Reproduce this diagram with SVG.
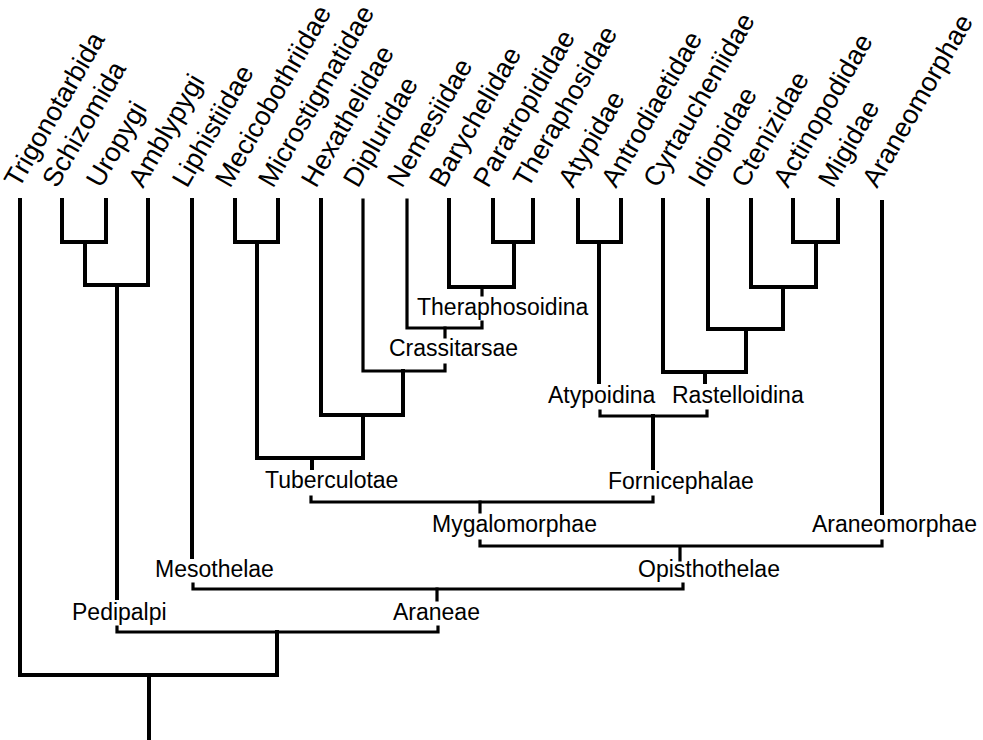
<svg xmlns="http://www.w3.org/2000/svg" width="983" height="740" viewBox="0 0 983 740">
<style>
.tree{fill:none;stroke:#000;stroke-width:4;stroke-linecap:square;stroke-linejoin:miter}
.br{fill:none;stroke:#000;stroke-width:3.2;stroke-linecap:square}
.lab{font-family:"Liberation Sans",Arial,sans-serif;font-size:23px;fill:#000}
.tip{font-family:"Liberation Sans",Arial,sans-serif;font-size:27px;fill:#000}
</style>
<rect width="983" height="740" fill="#fff"/>
<g id="connectors">
<path class="tree" d="M62 200V242H106V200M85 242V285H148V200M117 285V598"/>
<path class="tree" d="M20 200V675H277V632M149 675V740"/>
<path class="br" d="M117 627V632H438V627M437 589V600"/>
<path class="tree" d="M192 200V557"/>
<path class="br" d="M193 584V589H683V584M680 547V560"/>
<path class="tree" d="M882 202V513"/>
<path class="br" d="M480 541V546H882V541M480 502V512"/>
<path class="br" d="M311 497V502H653V497"/>
<path class="tree" d="M312 458V468M653 416V468"/>
<path class="br" d="M600 411V416H707V411"/>
<path class="tree" d="M578 200V242H621V200M599 242V382"/>
<path class="tree" d="M793 200V242H838V200M816 242V287H751V200M783 287V329H708V200M746 329V372H663V200M705 372V382"/>
<path class="tree" d="M235 200V242H278V200M257 242V458H363V415"/>
<path class="tree" d="M321 200V415H403V371"/>
<path class="br" d="M363 200V371H445V365M445 328V337"/>
<path class="br" d="M407 200V328H482V322M482 287V295"/>
<path class="tree" d="M449 200V287H514V242M493 200V242H533V200"/>
</g>
<g id="tips">
<text class="tip" transform="translate(19 189) rotate(-60)">Trigonotarbida</text>
<text class="tip" transform="translate(57 189) rotate(-60)">Schizomida</text>
<text class="tip" transform="translate(101 189) rotate(-60)">Uropygi</text>
<text class="tip" transform="translate(143 189) rotate(-60)">Amblypygi</text>
<text class="tip" transform="translate(187 189) rotate(-60)">Liphistiidae</text>
<text class="tip" transform="translate(230 189) rotate(-60)">Mecicobothriidae</text>
<text class="tip" transform="translate(273 189) rotate(-60)">Microstigmatidae</text>
<text class="tip" transform="translate(316 189) rotate(-60)">Hexathelidae</text>
<text class="tip" transform="translate(358 189) rotate(-60)">Dipluridae</text>
<text class="tip" transform="translate(402 189) rotate(-60)">Nemesiidae</text>
<text class="tip" transform="translate(444 189) rotate(-60)">Barychelidae</text>
<text class="tip" transform="translate(488 189) rotate(-60)">Paratropididae</text>
<text class="tip" transform="translate(528 189) rotate(-60)">Theraphosidae</text>
<text class="tip" transform="translate(573 189) rotate(-60)">Atypidae</text>
<text class="tip" transform="translate(616 189) rotate(-60)">Antrodiaetidae</text>
<text class="tip" transform="translate(658 189) rotate(-60)">Cyrtaucheniidae</text>
<text class="tip" transform="translate(703 189) rotate(-60)">Idiopidae</text>
<text class="tip" transform="translate(746 189) rotate(-60)">Ctenizidae</text>
<text class="tip" transform="translate(788 189) rotate(-60)">Actinopodidae</text>
<text class="tip" transform="translate(833 189) rotate(-60)">Migidae</text>
<text class="tip" transform="translate(877 189) rotate(-60)">Araneomorphae</text>
</g>
<g id="clades">
<text class="lab" x="417" y="315">Theraphosoidina</text>
<text class="lab" x="389" y="356">Crassitarsae</text>
<text class="lab" x="548" y="403">Atypoidina</text>
<text class="lab" x="672" y="403">Rastelloidina</text>
<text class="lab" x="265" y="488">Tuberculotae</text>
<text class="lab" x="608" y="489">Fornicephalae</text>
<text class="lab" x="432" y="532">Mygalomorphae</text>
<text class="lab" x="812" y="532">Araneomorphae</text>
<text class="lab" x="155" y="577">Mesothelae</text>
<text class="lab" x="638" y="577">Opisthothelae</text>
<text class="lab" x="72" y="620">Pedipalpi</text>
<text class="lab" x="393" y="620">Araneae</text>
</g>
</svg>
